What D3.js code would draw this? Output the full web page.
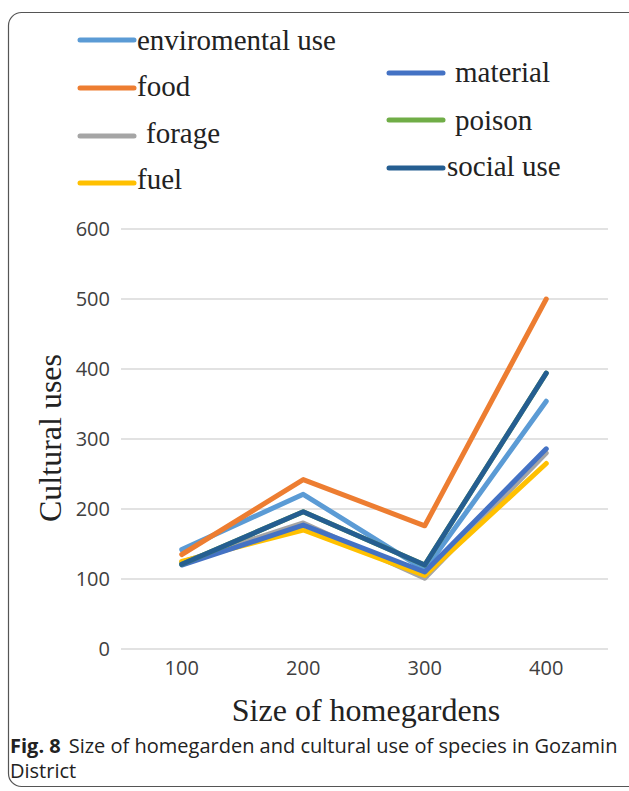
<!DOCTYPE html>
<html>
<head>
<meta charset="utf-8">
<script src="https://cdn.jsdelivr.net/npm/d3@7/dist/d3.min.js"></script>
<style>
  html, body { margin: 0; padding: 0; background: #fff; }
  svg { display: block; }
</style>
</head>
<body>
<script>
// Homegarden size classes and cultural-use counts per use category
const sizes = ["100", "200", "300", "400"];
const seriesNames = ["enviromental use", "food", "forage", "fuel", "material", "poison", "social use"];
const envUse   = [142, 221, 113, 354];
const food     = [135, 242, 176, 500];
const forage   = [124, 180, 101, 280];
const fuel     = [125, 170, 105, 265];
const material = [120, 177, 110, 286];
const poison   = [121, 196, 120, 394];
const socialUse= [121, 196, 120, 394];
const yTicks   = [0, 100, 200, 300, 400, 500, 600];
const colors   = ["#5b9bd5", "#ed7d31", "#a5a5a5", "#ffc000", "#4472c4", "#70ad47", "#255e91"];

const seriesValues = [envUse, food, forage, fuel, material, poison, socialUse];
const series = seriesNames.map((name, i) => ({ name, values: seriesValues[i], color: colors[i] }));

const W = 629, H = 791;
const svg = d3.select("body").append("svg").attr("width", W).attr("height", H);

// Figure frame
svg.append("rect")
  .attr("x", 8.5).attr("y", 12.5)
  .attr("width", 660).attr("height", 774)
  .attr("rx", 13).attr("ry", 13)
  .attr("fill", "none").attr("stroke", "#555").attr("stroke-width", 1.2);

// Scales
const x = d3.scaleBand().domain(sizes).range([121, 607]);
const y = d3.scaleLinear().domain([0, 600]).range([649, 229]);

// Grid lines
svg.append("g")
  .selectAll("line").data(yTicks).join("line")
  .attr("x1", 121).attr("x2", 608)
  .attr("y1", d => y(d)).attr("y2", d => y(d))
  .attr("stroke", "#d9d9d9").attr("stroke-width", 1.5);

const tickFont = "'Open Sans', 'Noto Sans', sans-serif";

// Y axis tick labels
const yAxis = d3.axisLeft(y).tickValues(yTicks).tickSize(0).tickPadding(0);
const gy = svg.append("g").attr("transform", "translate(110,0)").call(yAxis);
gy.select(".domain").remove();
gy.selectAll("text")
  .attr("font-family", tickFont)
  .attr("font-size", 20).attr("fill", "#404040");

// X axis tick labels
const xAxis = d3.axisBottom(x).tickSize(0).tickPadding(0);
const gx = svg.append("g").attr("transform", "translate(0,661)").call(xAxis);
gx.select(".domain").remove();
gx.selectAll("text")
  .attr("font-family", tickFont)
  .attr("font-size", 20).attr("fill", "#404040");

// Lines
const line = d3.line()
  .x((d, i) => x(sizes[i]) + x.bandwidth() / 2)
  .y(d => y(d));

svg.append("g")
  .selectAll("path").data(series).join("path")
  .attr("d", d => line(d.values))
  .attr("fill", "none")
  .attr("stroke", d => d.color)
  .attr("stroke-width", 5)
  .attr("stroke-linejoin", "round")
  .attr("stroke-linecap", "round");

const serif = "'Liberation Serif', 'Times New Roman', serif";

// Axis titles
svg.append("text")
  .attr("x", 366).attr("y", 721)
  .attr("text-anchor", "middle")
  .attr("font-family", serif)
  .attr("font-size", 32).attr("fill", "#222")
  .text("Size of homegardens");

svg.append("text")
  .attr("transform", "translate(61,438) rotate(-90)")
  .attr("text-anchor", "middle")
  .attr("font-family", serif)
  .attr("font-size", 32).attr("fill", "#222")
  .text("Cultural uses");

// Legend
const legendPos = [
  { lx: 80,  ly: 40,  tx: 137, ty: 50 },
  { lx: 80,  ly: 88,  tx: 137, ty: 96 },
  { lx: 80,  ly: 136, tx: 146, ty: 143 },
  { lx: 80,  ly: 183, tx: 137, ty: 189 },
  { lx: 389, ly: 73,  tx: 455, ty: 82 },
  { lx: 389, ly: 120, tx: 455, ty: 130 },
  { lx: 389, ly: 168, tx: 447, ty: 176 }
];
const lg = svg.append("g").selectAll("g").data(series).join("g");
lg.append("line")
  .attr("x1", (d, i) => legendPos[i].lx)
  .attr("x2", (d, i) => legendPos[i].lx + 54)
  .attr("y1", (d, i) => legendPos[i].ly)
  .attr("y2", (d, i) => legendPos[i].ly)
  .attr("stroke", d => d.color).attr("stroke-width", 5)
  .attr("stroke-linecap", "round");
lg.append("text")
  .attr("x", (d, i) => legendPos[i].tx)
  .attr("y", (d, i) => legendPos[i].ty)
  .attr("font-family", serif)
  .attr("font-size", 29).attr("fill", "#222")
  .text(d => d.name);

// Caption
const capFont = "'Open Sans', 'Noto Sans', sans-serif";
const cap = svg.append("text")
  .attr("x", 10).attr("y", 753)
  .attr("font-family", capFont)
  .attr("font-size", 20).attr("fill", "#222");
cap.append("tspan").attr("font-weight", "bold").text("Fig. 8");
cap.append("tspan").attr("dx", 8).text("Size of homegarden and cultural use of species in Gozamin");
svg.append("text")
  .attr("x", 10).attr("y", 778)
  .attr("font-family", capFont)
  .attr("font-size", 20).attr("fill", "#222")
  .text("District");
</script>
</body>
</html>
